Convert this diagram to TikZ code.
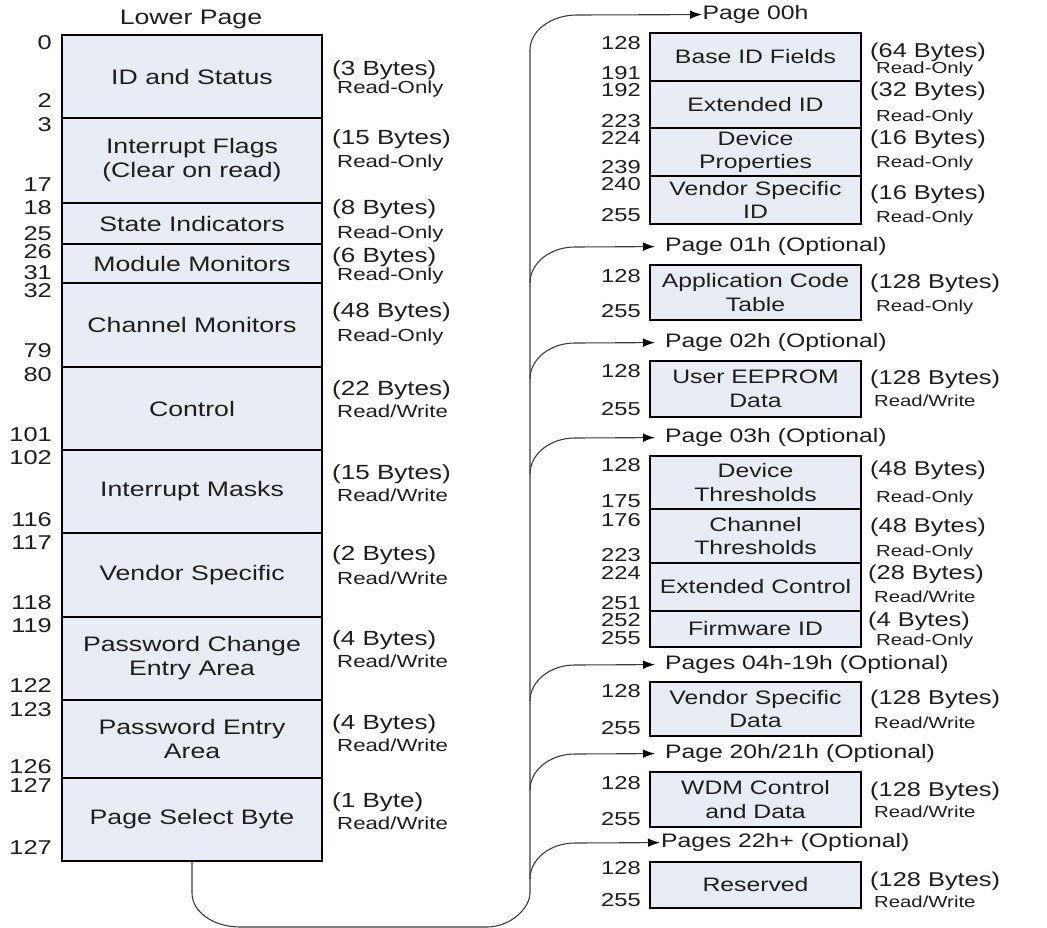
\documentclass[tikz,border=0pt]{standalone}
\usepackage{fontspec}
\setmainfont{Liberation Sans}[FakeStretch=1.27]
\usetikzlibrary{arrows.meta}
\definecolor{segfill}{RGB}{232,236,244}
\definecolor{txt}{RGB}{30,30,30}
\definecolor{lnk}{RGB}{60,60,60}
\tikzset{
  seg/.style={draw=black, line width=2.4pt, fill=segfill, inner sep=0pt, align=center, text=txt},
  lseg/.style={seg, minimum width=260pt, font=\fontsize{21}{24}\selectfont},
  rseg/.style={seg, minimum width=211pt, font=\fontsize{19.5}{23.5}\selectfont},
  lnum/.style={anchor=mid east, inner sep=0pt, yshift=-2pt, text=txt, font=\fontsize{20}{20}\selectfont},
  rnum/.style={anchor=mid east, inner sep=0pt, yshift=-2pt, text=txt, font=\fontsize{18.7}{18.7}\selectfont},
  lbytes/.style={anchor=mid west, inner sep=0pt, yshift=-2pt, text=txt, font=\fontsize{20.5}{20.5}\selectfont},
  lacc/.style={anchor=mid west, inner sep=0pt, yshift=-1.5pt, text=txt, font=\fontsize{17.5}{17.5}\selectfont},
  rbytes/.style={anchor=mid west, inner sep=0pt, yshift=-2pt, text=txt, font=\fontsize{20}{20}\selectfont},
  racc/.style={anchor=mid west, inner sep=0pt, yshift=-1.5pt, text=txt, font=\fontsize{16}{16}\selectfont},
  pagelbl/.style={anchor=mid west, inner sep=0pt, outer xsep=10pt, yshift=-2pt, text=txt, font=\fontsize{19.5}{19.5}\selectfont},
  conn/.style={draw=lnk, line width=1.1pt},
  arr/.style={conn, -{Latex[length=12pt,width=8.5pt,color=black]}},
}
\begin{document}
\begin{tikzpicture}[x=1pt, y=-1pt]
\useasboundingbox[fill=white] (0,0) rectangle (1047,928);

% ---------- Lower page ----------
\node[inner sep=0pt, text=txt, font=\fontsize{21}{21}\selectfont] (title) at (191,19) {Lower Page};

\node[lseg, minimum height=83pt] (s1) at (192,76.5) {ID and Status};
\node[lseg, minimum height=85pt] (s2) at (192,160.5) {Interrupt Flags\\(Clear on read)};
\node[lseg, minimum height=41pt] (s3) at (192,223.5) {State Indicators};
\node[lseg, minimum height=39pt] (s4) at (192,263.5) {Module Monitors};
\node[lseg, minimum height=84pt] (s5) at (192,325) {Channel Monitors};
\node[lseg, minimum height=83pt] (s6) at (192,408.5) {Control};
\node[lseg, minimum height=83pt] (s7) at (192,491.5) {Interrupt Masks};
\node[lseg, minimum height=84pt] (s8) at (192,575) {Vendor Specific};
\node[lseg, minimum height=83pt] (s9) at (192,658.5) {Password Change\\Entry Area};
\node[lseg, minimum height=78pt] (s10) at (192,739) {Password Entry\\Area};
\node[lseg, minimum height=83pt] (s11) at (192,819.5) {Page Select Byte};

\node[lnum] (ln1) at (52,45) {0};
\node[lnum] (ln2) at (52,103) {2};
\node[lnum] (ln3) at (52,127) {3};
\node[lnum] (ln4) at (52,187) {17};
\node[lnum] (ln5) at (52,210) {18};
\node[lnum] (ln6) at (52,236) {25};
\node[lnum] (ln7) at (52,254) {26};
\node[lnum] (ln8) at (52,275) {31};
\node[lnum] (ln9) at (52,293) {32};
\node[lnum] (ln10) at (52,353) {79};
\node[lnum] (ln11) at (52,377) {80};
\node[lnum] (ln12) at (52,437) {101};
\node[lnum] (ln13) at (52,460) {102};
\node[lnum] (ln14) at (52,522) {116};
\node[lnum] (ln15) at (52,545) {117};
\node[lnum] (ln16) at (52,605) {118};
\node[lnum] (ln17) at (52,628) {119};
\node[lnum] (ln18) at (52,688) {122};
\node[lnum] (ln19) at (52,712) {123};
\node[lnum] (ln20) at (52,769) {126};
\node[lnum] (ln21) at (52,788) {127};
\node[lnum] (ln22) at (52,850) {127};

\node[lbytes] (lb1) at (332,71) {(3 Bytes)};
\node[lbytes] (lb2) at (332,140) {(15 Bytes)};
\node[lbytes] (lb3) at (332,210) {(8 Bytes)};
\node[lbytes] (lb4) at (332,258) {(6 Bytes)};
\node[lbytes] (lb5) at (332,313) {(48 Bytes)};
\node[lbytes] (lb6) at (332,391) {(22 Bytes)};
\node[lbytes] (lb7) at (332,475) {(15 Bytes)};
\node[lbytes] (lb8) at (332,556) {(2 Bytes)};
\node[lbytes] (lb9) at (332,641) {(4 Bytes)};
\node[lbytes] (lb10) at (332,725) {(4 Bytes)};
\node[lbytes] (lb11) at (332,803) {(1 Byte)};

\node[lacc] (la1) at (337,89) {Read-Only};
\node[lacc] (la2) at (337,163) {Read-Only};
\node[lacc] (la3) at (337,234) {Read-Only};
\node[lacc] (la4) at (337,276) {Read-Only};
\node[lacc] (la5) at (337,337) {Read-Only};
\node[lacc] (la6) at (337,413) {Read/Write};
\node[lacc] (la7) at (337,497) {Read/Write};
\node[lacc] (la8) at (337,580) {Read/Write};
\node[lacc] (la9) at (337,663) {Read/Write};
\node[lacc] (la10) at (337,747) {Read/Write};
\node[lacc] (la11) at (337,825) {Read/Write};

% ---------- Upper pages ----------
\node[pagelbl, outer xsep=0.5pt] (p00) at (702,15) {Page 00h};
\node[pagelbl] (p01) at (655,247) {Page 01h (Optional)};
\node[pagelbl] (p02) at (655,343) {Page 02h (Optional)};
\node[pagelbl] (p03) at (655,438) {Page 03h (Optional)};
\node[pagelbl] (p04) at (655,665) {Pages 04h-19h (Optional)};
\node[pagelbl] (p20) at (655,754) {Page 20h/21h (Optional)};
\node[pagelbl, outer xsep=1pt] (p22) at (660,843) {Pages 22h+ (Optional)};

\node[rseg, minimum height=48pt] (a1) at (755.5,57) {Base ID Fields};
\node[rseg, minimum height=47pt] (a2) at (755.5,104.5) {Extended ID};
\node[rseg, minimum height=48pt] (a3) at (755.5,152) {Device\\Properties};
\node[rseg, minimum height=48pt] (a4) at (755.5,200) {Vendor Specific\\ID};
\node[rseg, minimum height=55pt] (b1) at (755.5,292.5) {Application Code\\Table};
\node[rseg, minimum height=56pt] (c1) at (755.5,389) {User EEPROM\\Data};
\node[rseg, minimum height=53pt] (d1) at (755.5,482.5) {Device\\Thresholds};
\node[rseg, minimum height=54pt] (d2) at (755.5,536) {Channel\\Thresholds};
\node[rseg, minimum height=48pt] (d3) at (755.5,587) {Extended Control};
\node[rseg, minimum height=36pt] (d4) at (755.5,629) {Firmware ID};
\node[rseg, minimum height=54pt] (e1) at (755.5,709) {Vendor Specific\\Data};
\node[rseg, minimum height=55pt] (f1) at (755.5,799.5) {WDM Control\\and Data};
\node[rseg, minimum height=46pt] (g1) at (755.5,885) {Reserved};

\node[rnum] (rn1) at (641,45) {128};
\node[rnum] (rn2) at (641,75) {191};
\node[rnum] (rn3) at (641,92) {192};
\node[rnum] (rn4) at (641,123) {223};
\node[rnum] (rn5) at (641,140) {224};
\node[rnum] (rn6) at (641,169) {239};
\node[rnum] (rn7) at (641,186) {240};
\node[rnum] (rn8) at (641,217) {255};
\node[rnum] (rn9) at (641,278) {128};
\node[rnum] (rn10) at (641,313) {255};
\node[rnum] (rn11) at (641,373) {128};
\node[rnum] (rn12) at (641,411) {255};
\node[rnum] (rn13) at (641,467) {128};
\node[rnum] (rn14) at (641,503) {175};
\node[rnum] (rn15) at (641,522) {176};
\node[rnum] (rn16) at (641,557) {223};
\node[rnum] (rn17) at (641,575) {224};
\node[rnum] (rn18) at (641,605) {251};
\node[rnum] (rn19) at (641,622) {252};
\node[rnum] (rn20) at (641,640) {255};
\node[rnum] (rn21) at (641,693) {128};
\node[rnum] (rn22) at (641,730) {255};
\node[rnum] (rn23) at (641,785) {128};
\node[rnum] (rn24) at (641,821) {255};
\node[rnum] (rn25) at (641,870) {128};
\node[rnum] (rn26) at (641,902) {255};

\node[rbytes] (rb1) at (870,53) {(64 Bytes)};
\node[rbytes] (rb2) at (870,92) {(32 Bytes)};
\node[rbytes] (rb3) at (870,140) {(16 Bytes)};
\node[rbytes] (rb4) at (870,195) {(16 Bytes)};
\node[rbytes] (rb5) at (870,284) {(128 Bytes)};
\node[rbytes] (rb6) at (870,380) {(128 Bytes)};
\node[rbytes] (rb7) at (870,471) {(48 Bytes)};
\node[rbytes] (rb8) at (870,528) {(48 Bytes)};
\node[rbytes] (rb9) at (868,575) {(28 Bytes)};
\node[rbytes] (rb10) at (868,622) {(4 Bytes)};
\node[rbytes] (rb11) at (870,700) {(128 Bytes)};
\node[rbytes] (rb12) at (870,792) {(128 Bytes)};
\node[rbytes] (rb13) at (870,882) {(128 Bytes)};

\node[racc] (ra1) at (876,69) {Read-Only};
\node[racc] (ra2) at (876,117) {Read-Only};
\node[racc] (ra3) at (876,163) {Read-Only};
\node[racc] (ra4) at (876,218) {Read-Only};
\node[racc] (ra5) at (876,307) {Read-Only};
\node[racc] (ra6) at (874,402) {Read/Write};
\node[racc] (ra7) at (876,498) {Read-Only};
\node[racc] (ra8) at (876,552) {Read-Only};
\node[racc] (ra9) at (874,598) {Read/Write};
\node[racc] (ra10) at (876,641) {Read-Only};
\node[racc] (ra11) at (874,724) {Read/Write};
\node[racc] (ra12) at (874,813) {Read/Write};
\node[racc] (ra13) at (874,903) {Read/Write};

% ---------- connectors ----------
\coordinate (j01) at (530,283);
\coordinate (j02) at (530,379);
\coordinate (j03) at (530,474);
\coordinate (j04) at (530,701);
\coordinate (j20) at (530,790);
\coordinate (j22) at (530,879);

\draw[arr] (s11.south) -- (192,893) .. controls (192,912) and (213.5,927) .. (240,927)
  -- (487,927) .. controls (510.7,927) and (530,908) .. (530,893)
  -- (530,50) .. controls (530,30.7) and (551,15) .. (577,15) -- (p00.west);

\draw[arr] (j01) .. controls (530,263) and (550,247) .. (575,247) -- (p01.west);
\draw[arr] (j02) .. controls (530,359) and (550,343) .. (575,343) -- (p02.west);
\draw[arr] (j03) .. controls (530,454) and (550,438) .. (575,438) -- (p03.west);
\draw[arr] (j04) .. controls (530,681) and (550,665) .. (575,665) -- (p04.west);
\draw[arr] (j20) .. controls (530,770) and (550,754) .. (575,754) -- (p20.west);
\draw[arr] (j22) .. controls (530,859) and (550,843) .. (575,843) -- (p22.west);
\end{tikzpicture}
\end{document}
